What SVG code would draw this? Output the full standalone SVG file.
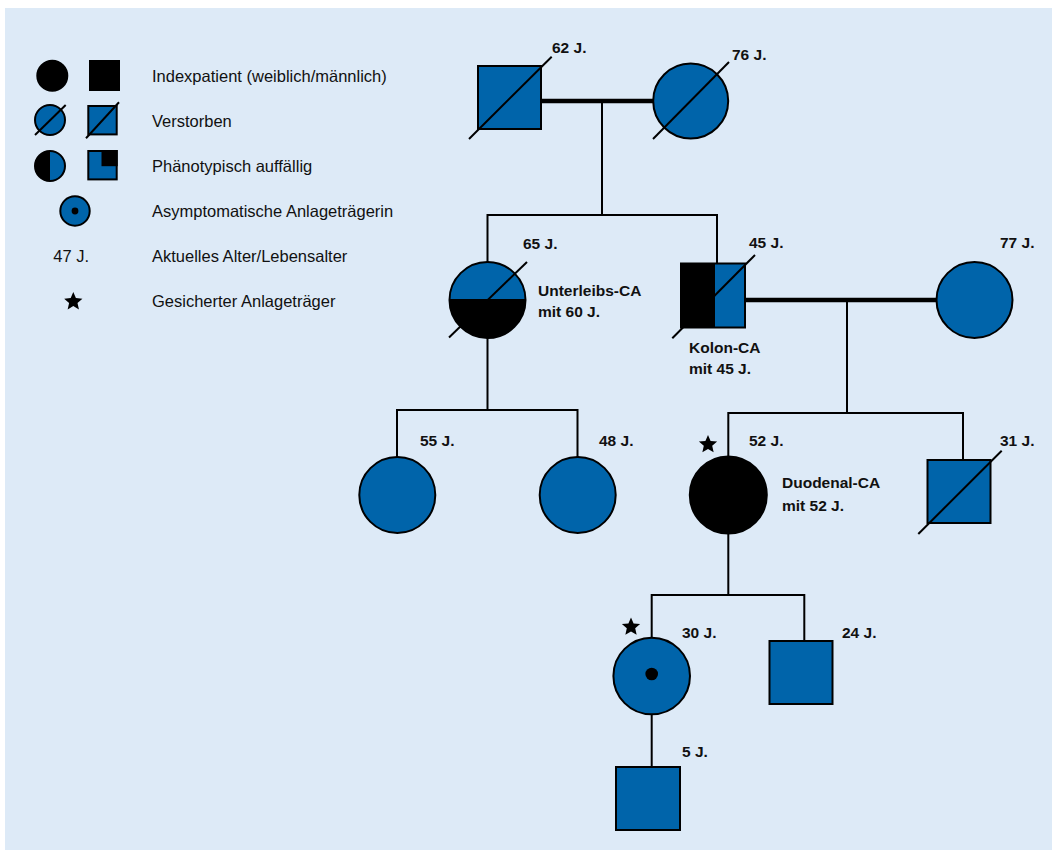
<svg xmlns="http://www.w3.org/2000/svg" width="1052" height="854" viewBox="0 0 1052 854">
<style>
.bg{fill:#ddeaf7}
.b{fill:#0064aa;stroke:#000;stroke-width:2}
.k{fill:#000;stroke:#000;stroke-width:2}
.no{fill:none;stroke:#000;stroke-width:2}
.ln{stroke:#000;stroke-width:2;fill:none}
.mar{stroke:#000;stroke-width:4.5;fill:none}
.lbl{font-family:"Liberation Sans",Arial,sans-serif;font-size:15.5px;font-weight:bold;fill:#111}
.leg{font-family:"Liberation Sans",Arial,sans-serif;font-size:16.5px;fill:#111}
</style>
<defs>
<path id="star" d="M0,-9.6 L2.6,-3.6 L9.13,-2.97 L4.2,1.37 L5.64,7.77 L0,4.4 L-5.64,7.77 L-4.2,1.37 L-9.13,-2.97 L-2.6,-3.6 Z" fill="#000"/>
</defs>
<rect class="bg" x="5" y="8" width="1047" height="842"/>

<g id="legend">
  <circle class="k" cx="52.3" cy="75.7" r="15"/>
  <rect class="k" x="90" y="61" width="29" height="29"/>
  <text class="leg" x="152" y="81.7">Indexpatient (weiblich/männlich)</text>

  <circle class="b" cx="50" cy="120" r="15"/>
  <line class="ln" x1="35" y1="135" x2="65.7" y2="105"/>
  <rect class="b" x="88.3" y="106" width="28.4" height="28.4"/>
  <line class="ln" x1="86" y1="138.3" x2="119" y2="102.3"/>
  <text class="leg" x="152" y="127.3">Verstorben</text>

  <path d="M50,151 A15,15 0 0 1 50,181 Z" fill="#0064aa"/>
  <path d="M50,151 A15,15 0 0 0 50,181 Z" fill="#000"/>
  <circle class="no" cx="50" cy="166" r="15"/>
  <rect class="b" x="88.3" y="151" width="28.4" height="28.4"/>
  <rect x="102.5" y="151" width="14.2" height="14.2" fill="#000" stroke="#000" stroke-width="2"/>
  <text class="leg" x="152" y="171.7">Phänotypisch auffällig</text>

  <circle class="b" cx="75" cy="211" r="14.7"/>
  <circle cx="75" cy="211" r="3.4" fill="#000"/>
  <text class="leg" x="152" y="217.3">Asymptomatische Anlageträgerin</text>

  <text class="leg" x="53.3" y="261.7">47 J.</text>
  <text class="leg" x="152" y="261.7">Aktuelles Alter/Lebensalter</text>

  <use href="#star" x="73.3" y="301.7"/>
  <text class="leg" x="152" y="306.7">Gesicherter Anlageträger</text>
</g>

<g id="connectors">
  <line class="mar" x1="541" y1="101" x2="653" y2="101"/>
  <polyline class="ln" points="602,101 602,215"/>
  <polyline class="ln" points="487.5,262 487.5,215 717,215 717,263"/>
  <line class="mar" x1="745" y1="300" x2="936" y2="300"/>
  <polyline class="ln" points="847,300 847,413"/>
  <polyline class="ln" points="487.5,338 487.5,410"/>
  <polyline class="ln" points="397,457 397,410 577.5,410 577.5,457"/>
  <polyline class="ln" points="728.3,456 728.3,413 963,413 963,460"/>
  <polyline class="ln" points="728.3,534 728.3,595"/>
  <polyline class="ln" points="651.7,638 651.7,595 804.3,595 804.3,641"/>
  <polyline class="ln" points="651.7,714 651.7,767"/>
</g>

<g id="n62">
  <rect class="b" x="478" y="66" width="63" height="63"/>
  <line class="ln" x1="469" y1="139" x2="551.7" y2="56.7"/>
  <text class="lbl" x="552" y="53">62 J.</text>
</g>
<g id="n76">
  <circle class="b" cx="690.7" cy="101" r="37.5"/>
  <line class="ln" x1="653" y1="139" x2="729" y2="62"/>
  <text class="lbl" x="732" y="60">76 J.</text>
</g>
<g id="n65">
  <path d="M449.5,300 A38,38 0 0 1 525.5,300 Z" fill="#0064aa"/>
  <path d="M449.5,300 A38,38 0 0 0 525.5,300 Z" fill="#000"/>
  <line class="ln" x1="449.5" y1="300" x2="525.5" y2="300"/>
  <circle class="no" cx="487.5" cy="300" r="38"/>
  <line class="ln" x1="449" y1="337.5" x2="527" y2="262"/>
  <text class="lbl" x="523" y="249">65 J.</text>
  <text class="lbl" x="538" y="296">Unterleibs-CA</text>
  <text class="lbl" x="538" y="317">mit 60 J.</text>
</g>
<g id="n45">
  <rect x="681" y="263.5" width="33" height="64" fill="#000"/>
  <rect x="714" y="263.5" width="31" height="64" fill="#0064aa"/>
  <rect class="no" x="681" y="263.5" width="64" height="64"/>
  <line class="ln" x1="714" y1="263.5" x2="714" y2="327.5"/>
  <line class="ln" x1="672.3" y1="338.3" x2="755" y2="255"/>
  <text class="lbl" x="749" y="248">45 J.</text>
  <text class="lbl" x="689" y="353">Kolon-CA</text>
  <text class="lbl" x="689" y="374">mit 45 J.</text>
</g>
<g id="n77">
  <circle class="b" cx="974.5" cy="300" r="38"/>
  <text class="lbl" x="1000" y="248">77 J.</text>
</g>
<g id="n55">
  <circle class="b" cx="397.3" cy="495" r="38"/>
  <text class="lbl" x="420" y="446">55 J.</text>
</g>
<g id="n48">
  <circle class="b" cx="577.7" cy="495" r="38"/>
  <text class="lbl" x="599" y="446">48 J.</text>
</g>
<g id="n52">
  <circle class="k" cx="728.3" cy="495" r="38.5"/>
  <use href="#star" x="708" y="444.5"/>
  <text class="lbl" x="749" y="446">52 J.</text>
  <text class="lbl" x="782" y="488">Duodenal-CA</text>
  <text class="lbl" x="782" y="511">mit 52 J.</text>
</g>
<g id="n31">
  <rect class="b" x="927.5" y="460" width="63" height="63"/>
  <line class="ln" x1="918.3" y1="534" x2="1001.7" y2="450.7"/>
  <text class="lbl" x="1000" y="446">31 J.</text>
</g>
<g id="n30">
  <circle class="b" cx="651.7" cy="676" r="38.3"/>
  <circle cx="651.7" cy="674" r="6.3" fill="#000"/>
  <use href="#star" x="631" y="627"/>
  <text class="lbl" x="682" y="638">30 J.</text>
</g>
<g id="n24">
  <rect class="b" x="769.5" y="641" width="63" height="63"/>
  <text class="lbl" x="842" y="638">24 J.</text>
</g>
<g id="n5">
  <rect class="b" x="616" y="767" width="64" height="63"/>
  <text class="lbl" x="682" y="757">5 J.</text>
</g>
</svg>
